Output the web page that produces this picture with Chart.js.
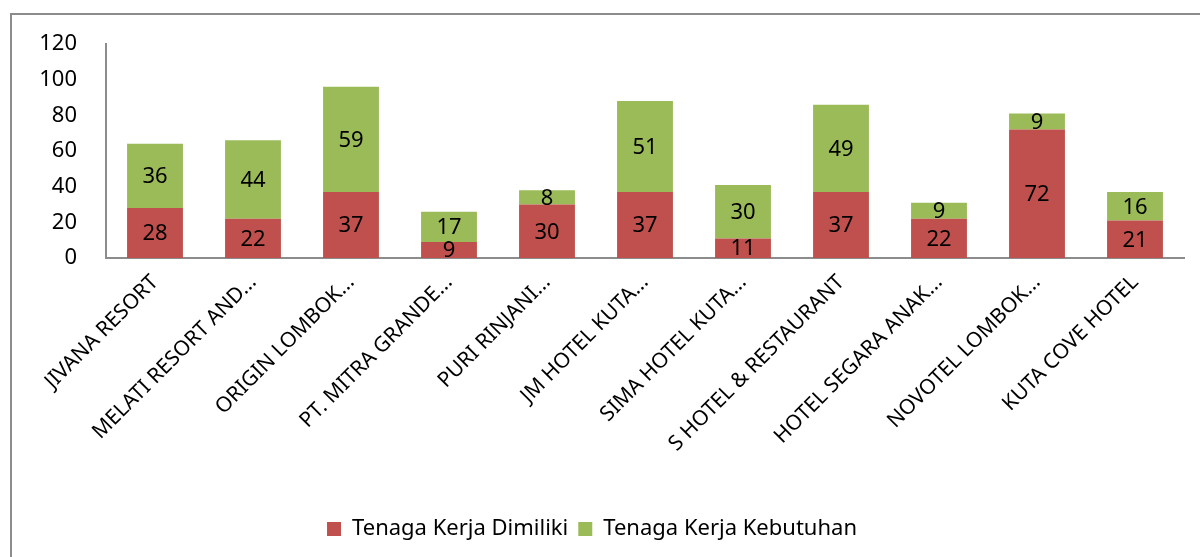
<!DOCTYPE html>
<html>
<head>
<meta charset="utf-8">
<script src="https://cdn.jsdelivr.net/npm/chart.js@4"></script>
<style>
  html, body { margin: 0; padding: 0; background: #fff; overflow: hidden; }
  #frame { position: absolute; left: 10px; top: 13px; width: 1200px; height: 600px; border: 2px solid #8c8c8c; }
  #wrap { position: absolute; left: 0; top: 0; width: 1200px; height: 557px; }
</style>
</head>
<body>
<div id="frame"></div>
<div id="wrap"><canvas id="myChart"></canvas></div>
<script>
// Data
const hotels = ["JIVANA RESORT", "MELATI RESORT AND...", "ORIGIN LOMBOK...", "PT. MITRA GRANDE...", "PURI RINJANI...",
  "JM HOTEL KUTA...", "SIMA HOTEL KUTA...", "S HOTEL & RESTAURANT", "HOTEL SEGARA ANAK...", "NOVOTEL LOMBOK...", "KUTA COVE HOTEL"];
const dimiliki  = [28, 22, 37, 9, 30, 37, 11, 37, 22, 72, 21];
const kebutuhan = [36, 44, 59, 17, 8, 51, 30, 49, 9, 9, 16];
const yTicks = [0, 20, 40, 60, 80, 100, 120];

const fontName = "'Noto Sans', sans-serif";
const axisColor = "#8c8c8c";

// draw value inside each bar segment
const valueLabels = {
  id: "valueLabels",
  afterDatasetsDraw(chart){
    var ctx = chart.ctx;
    ctx.save();
    ctx.font = "22px " + fontName;
    ctx.fillStyle = "#000";
    ctx.textAlign = "center";
    ctx.textBaseline = "middle";
    chart.data.datasets.forEach((ds, i) => {
      chart.getDatasetMeta(i).data.forEach((bar, j) => {
        ctx.fillText(ds.data[j], bar.x, (bar.y + bar.base) / 2 + 1);
      });
    });
    ctx.restore();
  }
};

Chart.defaults.font.family = fontName;
Chart.defaults.color = "#000";

new Chart(document.getElementById("myChart"), {
  type: "bar",
  data: {
    labels: hotels,
    datasets: [
      {label: "Tenaga Kerja Dimiliki", data: dimiliki, backgroundColor: "#C0504D"},
      {label: "Tenaga Kerja Kebutuhan", data: kebutuhan, backgroundColor: "#9BBB59"}
    ]
  },
  options: {
    responsive: true,
    maintainAspectRatio: false,
    animation: false,
    categoryPercentage: 1,
    barPercentage: 0.57,
    layout: {padding: {top: 44, right: 16, bottom: 7, left: 0}},
    plugins: {
      tooltip: {enabled: false},
      legend: {
        position: "bottom",
        labels: {boxWidth: 14, boxHeight: 14, padding: 10, font: {size: 22}}
      }
    },
    scales: {
      x: {
        stacked: true,
        grid: {display: false},
        border: {color: axisColor, width: 2},
        ticks: {minRotation: 45, maxRotation: 45, autoSkip: false, font: {size: 21}, padding: 4},
        afterFit(scale){ scale.height = 250; }
      },
      y: {
        stacked: true,
        min: 0, max: 120,
        grid: {display: false},
        border: {color: axisColor, width: 2},
        afterBuildTicks(scale){ scale.ticks = yTicks.map(v => ({value: v})); },
        ticks: {font: {size: 22}, padding: 21},
        afterFit(scale){ scale.width = 106; }
      }
    }
  },
  plugins: [valueLabels]
});
</script>
</body>
</html>
